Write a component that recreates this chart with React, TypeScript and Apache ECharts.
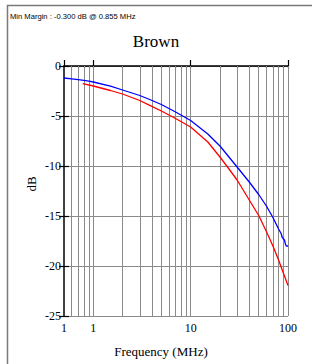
import React, { useEffect, useRef } from "react";
import * as echarts from "echarts";

const blueFreq = [0.5, 0.6, 0.7, 0.8, 0.9, 1, 1.5, 2, 3, 3.8, 5, 7, 10, 15, 20, 30, 40, 50, 60, 70, 80, 85, 87, 90, 92, 94, 96, 100];
const blueDb = [-1.2, -1.28, -1.36, -1.44, -1.52, -1.6, -2.02, -2.4, -2.95, -3.35, -3.85, -4.6, -5.45, -6.8, -8.0, -10.1, -11.6, -12.85, -14.0, -15.15, -16.3, -16.75, -17.1, -17.3, -17.4, -17.8, -18.0, -18.0];
const redFreq = [0.78, 1, 1.5, 2, 3, 3.8, 5, 7, 10, 15, 20, 25, 30, 40, 50, 60, 70, 80, 90, 100];
const redDb = [-1.76, -2.0, -2.45, -2.8, -3.45, -3.93, -4.5, -5.25, -6.1, -7.6, -9.1, -10.35, -11.4, -13.4, -14.95, -16.55, -18.0, -19.4, -20.75, -21.95];

const gridFreqs = [0.6, 0.7, 0.8, 0.9, 1, 2, 3, 4, 5, 6, 7, 8, 9, 10, 20, 30, 40, 50, 60, 70, 80, 90, 100];
const xTickValues = [0.5, 1, 10, 100];
const xTickLabels = ["1", "1", "10", "100"];
const yMin = -25;
const yMax = 0;
const yStep = 5;

const titleText = "Brown";
const marginText = "Min Margin : -0.300 dB @ 0.855 MHz";
const xName = "Frequency (MHz)";
const yName = "dB";

export default function App() {
  const ref = useRef<HTMLDivElement>(null);
  useEffect(() => {
    const chart = echarts.init(ref.current!, null, { renderer: "svg" });
    const serif = "'Liberation Serif', 'Times New Roman', serif";
    const sans = "'Liberation Sans', Arial, sans-serif";
    const toPairs = (xs: number[], ys: number[]) => xs.map((x, i) => [x, ys[i]]);
    chart.setOption({
      animation: false,
      backgroundColor: "#fff",
      grid: { left: 64, top: 66, right: 24, bottom: 48, containLabel: false },
      xAxis: [
        {
          type: "log",
          logBase: 10,
          min: 0.5,
          max: 100,
          axisLine: { show: true, lineStyle: { color: "#000", width: 1.5 } },
          axisTick: { show: true, inside: true, length: 6, lineStyle: { color: "#000", width: 1.2 } },
          splitLine: { show: false },
          axisLabel: {
            color: "#000",
            fontFamily: serif,
            fontSize: 12,
            margin: 6,
            customValues: xTickValues,
            formatter: (v: number) => {
              const i = xTickValues.findIndex((t) => Math.abs(t - v) < 1e-6);
              return i >= 0 ? xTickLabels[i] : "";
            },
          },
        },
        {
          type: "log",
          logBase: 10,
          min: 0.5,
          max: 100,
          position: "bottom",
          axisLine: { show: false },
          axisLabel: { show: false },
          splitLine: { show: false },
          axisTick: {
            show: true,
            inside: false,
            length: 2,
            customValues: gridFreqs,
            lineStyle: { color: "#000", width: 1.2 },
          },
        },
      ],
      yAxis: [
        {
          type: "value",
          min: yMin,
          max: yMax,
          interval: yStep,
          axisLine: { show: true, lineStyle: { color: "#000", width: 1.5 } },
          axisTick: { show: true, inside: false, length: 5, lineStyle: { color: "#000", width: 1.2 } },
          axisLabel: { color: "#000", fontFamily: serif, fontSize: 12, margin: 3 },
          splitLine: { show: true, lineStyle: { color: "#8a8a8a", width: 1 } },
        },
        {
          type: "value",
          min: yMin,
          max: yMax,
          interval: yStep,
          position: "left",
          axisLine: { show: false },
          axisTick: { show: true, inside: true, length: 5, lineStyle: { color: "#000", width: 1.2 } },
          axisLabel: { show: false },
          splitLine: { show: false },
        },
      ],
      series: [
        {
          type: "line",
          data: toPairs(blueFreq, blueDb),
          showSymbol: false,
          symbol: "none",
          lineStyle: { color: "#0000ff", width: 1.3 },
          z: 5,
          markLine: {
            silent: true,
            symbol: "none",
            label: { show: false },
            lineStyle: { color: "#8a8a8a", width: 1, type: "solid" },
            data: gridFreqs.map((f) => ({ xAxis: f })),
            z: 1,
          },
        },
        {
          type: "line",
          data: toPairs(redFreq, redDb),
          showSymbol: false,
          symbol: "none",
          lineStyle: { color: "#ff0000", width: 1.3 },
          z: 4,
        },
      ],
      graphic: [
        {
          type: "rect",
          shape: { x: 7.5, y: 5.5, width: 400, height: 400 },
          style: { fill: "none", stroke: "#7a7a7a", lineWidth: 1.5 },
          silent: true,
        },
        {
          type: "text",
          x: 10,
          y: 16,
          style: { text: marginText, fill: "#000", font: `7.6px ${sans}`, textVerticalAlign: "middle" },
        },
        {
          type: "text",
          x: 156,
          y: 41,
          style: { text: titleText, fill: "#000", font: `17px ${serif}`, textAlign: "center", textVerticalAlign: "middle" },
        },
        {
          type: "text",
          x: 161,
          y: 351,
          style: { text: xName, fill: "#000", font: `13px ${serif}`, textAlign: "center", textVerticalAlign: "middle" },
        },
        {
          type: "text",
          x: 31,
          y: 184,
          rotation: Math.PI / 2,
          style: { text: yName, fill: "#000", font: `13px ${serif}`, textAlign: "center", textVerticalAlign: "middle" },
        },
      ],
    });
    return () => chart.dispose();
  }, []);
  return (
    <div
      ref={ref}
      style={{ position: "absolute", left: 0, top: 0, width: 312, height: 364, background: "#fff" }}
    />
  );
}
